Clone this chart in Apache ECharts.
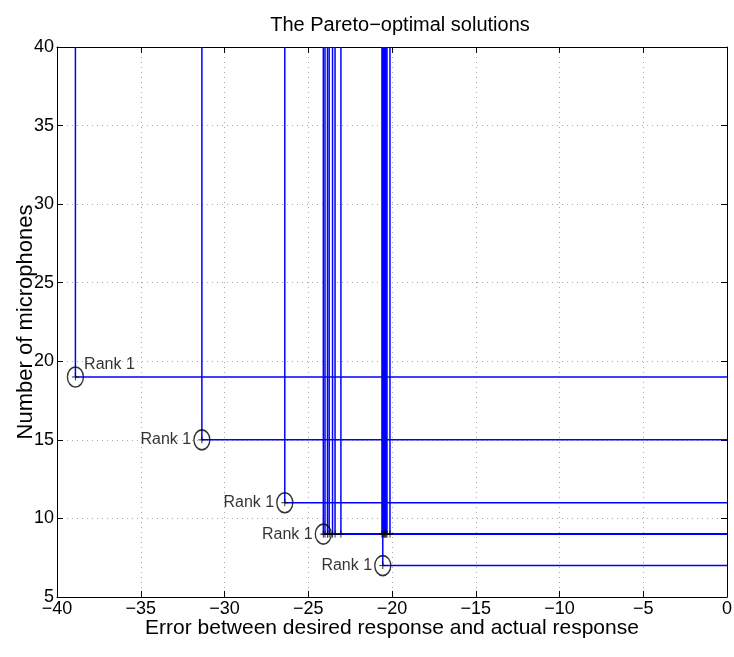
<!DOCTYPE html>
<html>
<head>
<meta charset="utf-8">
<script src="https://cdn.jsdelivr.net/npm/echarts@6/dist/echarts.min.js"></script>
<style>html,body{margin:0;padding:0;background:#fff}#c{width:734px;height:657px}</style>
</head>
<body>
<div id="c"></div>
<script>
// Rank 1 (Pareto-optimal) solutions
const rankX = [-38.9, -31.35, -26.4, -24.1, -20.55];
const rankY = [19, 15, 11, 9, 7];
// Other solutions shown with their dominance lines
const otherX = [-24.0, -23.85, -23.75, -23.55, -23.4, -23.05, -20.6, -20.5, -20.45, -20.4, -20.35, -20.3, -20.12];
const otherY = [9, 9, 9, 9, 9, 9, 9, 9, 9, 9, 9, 9, 9];
const rankLabel = 'Rank 1';
const xTicks = [-40, -35, -30, -25, -20, -15, -10, -5, 0];
const yTicks = [5, 10, 15, 20, 25, 30, 35, 40];

const FONT = 'Liberation Sans, Arial, sans-serif';
const fmt = v => String(v).replace('-', '\u2212');

const allX = rankX.concat(otherX);
const allY = rankY.concat(otherY);

const lineSeries = allX.map((x, i) => ({
  type: 'line',
  data: [[x, 40], [x, allY[i]], [0, allY[i]]],
  symbol: 'none',
  color: '#0000ff',
  itemStyle: { color: '#0000ff' },
  lineStyle: { color: '#0000ff', width: 1.5, opacity: 1 },
  animation: false,
  silent: true,
  z: 2
}));

const plusSeries = {
  type: 'scatter',
  data: allX.map((x, i) => [x, allY[i]]),
  symbol: 'path://M0,5L10,5M5,0L5,10',
  symbolSize: 7,
  itemStyle: { color: 'none', borderColor: '#000', borderWidth: 1 },
  animation: false,
  z: 4
};

const circleSeries = {
  type: 'scatter',
  data: rankX.map((x, i) => ({
    value: [x, rankY[i]],
    label: i === 0
      ? { show: true, position: 'right', formatter: rankLabel, offset: [-5, -12] }
      : { show: true, position: 'left', formatter: rankLabel, distance: 2 }
  })),
  symbol: 'circle',
  symbolSize: [16, 20],
  itemStyle: { color: 'rgba(0,0,0,0)', borderColor: '#000', borderWidth: 1.5 },
  label: { color: '#000', fontFamily: FONT, fontSize: 16 },
  animation: false,
  z: 5
};

const axisCommon = {
  axisLine: { show: true, onZero: false, lineStyle: { color: '#000', width: 1 } },
  axisTick: { show: true, inside: true, length: 6, lineStyle: { color: '#000' } },
};

const chart = echarts.init(document.getElementById('c'), null, { renderer: 'canvas' });
chart.setOption({
  backgroundColor: '#fff',
  animation: false,
  title: {
    text: 'The Pareto\u2212optimal solutions',
    left: 395, top: 10, textAlign: 'center',
    textStyle: { fontFamily: FONT, fontSize: 20, fontWeight: 'normal', color: '#000' }
  },
  grid: { left: 57, right: 7, top: 47, bottom: 60, containLabel: false, outerBoundsMode: 'none' },
  xAxis: [{
    type: 'value', min: xTicks[0], max: xTicks[xTicks.length - 1], interval: 5,
    position: 'bottom',
    ...axisCommon,
    axisLabel: { formatter: fmt, color: '#000', fontFamily: FONT, fontSize: 18, margin: 3 },
    splitLine: { show: true, lineStyle: { color: '#aaa', type: [1, 4], width: 1 } },
    name: 'Error between desired response and actual response',
    nameLocation: 'middle', nameGap: 21, nameMoveOverlap: false,
    nameTextStyle: { fontFamily: FONT, fontSize: 21, color: '#000' }
  }, {
    type: 'value', min: xTicks[0], max: xTicks[xTicks.length - 1], interval: 5,
    position: 'top', ...axisCommon, axisLabel: { show: false }, splitLine: { show: false }
  }],
  yAxis: [{
    type: 'value', min: yTicks[0], max: yTicks[yTicks.length - 1], interval: 5,
    position: 'left',
    ...axisCommon,
    axisLabel: { formatter: fmt, color: '#000', fontFamily: FONT, fontSize: 18, margin: 3 },
    splitLine: { show: true, lineStyle: { color: '#aaa', type: [1, 4], width: 1 } },
    name: 'Number of microphones',
    nameLocation: 'middle', nameGap: 20, nameMoveOverlap: false,
    nameTextStyle: { fontFamily: FONT, fontSize: 22, color: '#000' }
  }, {
    type: 'value', min: yTicks[0], max: yTicks[yTicks.length - 1], interval: 5,
    position: 'right', ...axisCommon, axisLabel: { show: false }, splitLine: { show: false }
  }],
  series: [...lineSeries, plusSeries, circleSeries]
});
</script>
</body>
</html>
